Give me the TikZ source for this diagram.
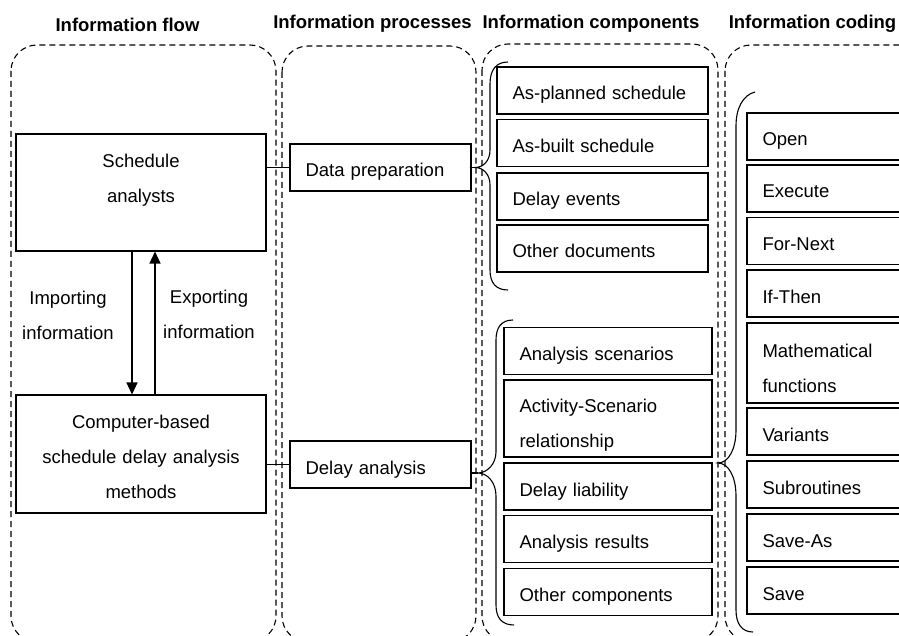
\documentclass[tikz,border=0pt]{standalone}
\usepackage{fontspec}
\setmainfont{Liberation Sans}
\usetikzlibrary{arrows.meta}

\begin{document}
\begin{tikzpicture}[x=1pt,y=-1pt,
	font=\fontsize{18.5}{35}\selectfont,
	lane/.style={draw=black,line width=1.1pt,dash pattern=on 6pt off 4pt,rounded corners=26pt},
	heading/.style={font=\fontsize{18.5}{22}\selectfont\bfseries,anchor=base},
	actor/.style={draw=black,line width=1.1pt,inner ysep=0pt,inner xsep=10pt,text width=230pt,align=center,text height=24pt},
	item/.style={draw=black,line width=1.1pt,inner ysep=0pt,inner xsep=15.5pt,align=left,minimum height=47pt,text height=24pt,text depth=5pt},
	bracket/.style={draw=black,line width=1.1pt},
	flow/.style={line width=1.3pt,-{Triangle[length=12pt,width=11pt]}}]
	
	\useasboundingbox (0,0) rectangle (899,636);
	\clip (0,0) rectangle (899,636);
	
	\node[heading] (hflow) at (127.5, 31.5) {Information flow};
	\node[heading] (hproc) at (372.5, 28.5) {Information processes};
	\node[heading] (hcomp) at (591, 28.5)   {Information components};
	\node[heading] (hcode) at (812.5, 28.5) {Information coding};
	
	\draw[lane] (11,45) rectangle (276,642);
	\draw[lane] (282,46) rectangle (476,642);
	\draw[lane] (482,44) rectangle (718,642);
	\draw[lane] (725,45) rectangle (960,642);
	
	\node[actor,minimum height=117pt,text depth=73pt] (analysts) at (141, 192.5) {Schedule\\analysts};
	\node[actor,minimum height=118pt,text depth=76pt] (computer) at (141, 454)  {Computer-based\\schedule delay analysis\\methods};
	\node[align=center,anchor=base] (import) at (68, 339)  {Importing\\information};
	\node[align=center,anchor=base] (export) at (209, 338) {Exporting\\information};
	\draw[flow] ([xshift=-9pt]analysts.south) -- ([xshift=-9pt]computer.north);
	\draw[flow] ([xshift=14pt]computer.north) -- ([xshift=14pt]analysts.south);
	
	\node[item,text width=150pt] (dataprep) at (380.5, 167.5) {Data preparation};
	\node[item,text width=150pt] (delay)    at (380.5, 464.5) {Delay analysis};
	\path[-,line width=1.1pt] (dataprep.west) edge (dataprep.west -| analysts.east);
	\path[-,line width=1.1pt] (delay.west)    edge (delay.west -| computer.east);
	
	\node[item,text width=180pt] (planned)   at (602.5, 90.5)  {As-planned schedule};
	\node[item,text width=180pt] (built)     at (602.5, 143)   {As-built schedule};
	\node[item,text width=180pt] (events)    at (602.5, 196.5) {Delay events};
	\node[item,text width=180pt] (documents) at (602.5, 248.5) {Other documents};
	
	\node[item,text width=177pt] (scenarios) at (608, 351)   {Analysis scenarios};
	\node[item,text width=177pt,minimum height=77pt,text depth=36pt] (relation) at (608, 418.5) {Activity-Scenario\\relationship};
	\node[item,text width=177pt] (liability) at (608, 486.5) {Delay liability};
	\node[item,text width=177pt] (results)   at (608, 539)   {Analysis results};
	\node[item,text width=177pt] (others)    at (608, 592)   {Other components};
	
	\node[item,text width=149pt] (open)        at (837, 136.5) {Open};
	\node[item,text width=149pt] (execute)     at (837, 188.5) {Execute};
	\node[item,text width=149pt] (fornext)     at (837, 241)   {For-Next};
	\node[item,text width=149pt] (ifthen)      at (837, 293.5) {If-Then};
	\node[item,text width=149pt,minimum height=80pt,text depth=36pt] (math) at (837, 363) {Mathematical\\functions};
	\node[item,text width=149pt] (variants)    at (837, 431.5) {Variants};
	\node[item,text width=149pt] (subroutines) at (837, 484.5) {Subroutines};
	\node[item,text width=149pt] (saveas)      at (837, 537.5) {Save-As};
	\node[item,text width=149pt] (save)        at (837, 590.5) {Save};
	
	\coordinate (prepTip)  at (475, 167.5);
	\coordinate (delayTip) at (478, 473);
	\coordinate (codeTip)  at (718, 463);
	\path[-,line width=1.1pt] (dataprep.east) edge (prepTip);
	\path[-,line width=1.1pt] (delay.east |- delayTip) edge (delayTip);
	
	\draw[bracket] (508,62) .. controls (496,62) and (490,70) .. (490,84) -- (490,150) .. controls (490,161) and (483,167.5) .. (prepTip) .. controls (483,167.5) and (490,174) .. (490,185) -- (490,270) .. controls (490,283) and (496,290) .. (508,290);
	\draw[bracket] (513,320) .. controls (501,320) and (496,328) .. (496,340) -- (496,452) .. controls (496,464) and (487,473) .. (delayTip) .. controls (487,473) and (496,482) .. (496,496) -- (496,605) .. controls (496,618) and (502,625) .. (514,625);
	\draw[bracket] (755,92) .. controls (743,95) and (736,108) .. (736,126) -- (736,430) .. controls (736,450) and (728,463) .. (codeTip) .. controls (728,463) and (736,476) .. (736,496) -- (736,610) .. controls (736,624) and (742,632) .. (753,632);
	
\end{tikzpicture}
\end{document}
